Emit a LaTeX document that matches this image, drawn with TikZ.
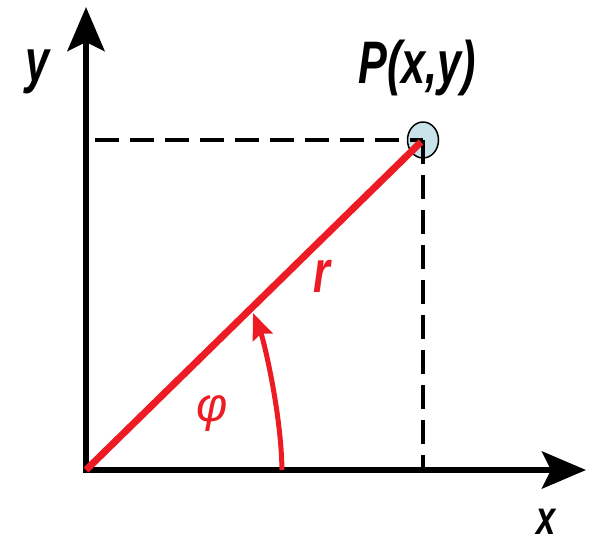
\documentclass[tikz,border=0pt]{standalone}
\usepackage{fontspec}
\usetikzlibrary{arrows.meta,shapes.geometric}
\newfontfamily\labfont[FakeStretch=0.72]{Liberation Sans}
\newfontfamily\phifont{Liberation Sans}
\definecolor{myred}{RGB}{237,28,36}
\definecolor{pfill}{RGB}{200,228,234}
\tikzset{
  axis/.style={line width=6pt, -{Stealth[length=44pt,width=37pt,inset=9pt]}},
  dashline/.style={line width=4pt, dash pattern=on 24pt off 11pt},
  redline/.style={line width=7pt, myred},
  arcarrow/.style={line width=5pt, myred, -{Stealth[length=26pt,width=21pt,inset=4pt]}},
  lab/.style={inner sep=0pt, font=\labfont\bfseries\itshape\fontsize{60}{60}\selectfont},
}
\begin{document}
\begin{tikzpicture}[x=1pt,y=-1pt]
\useasboundingbox (0,0) rectangle (599,547);
\coordinate (O) at (86,470);
\coordinate (P) at (423,140);
\coordinate (Yt) at (86,7);
\coordinate (Xt) at (586,470);
\coordinate (Px) at (423,470);
\coordinate (Py) at (95,140);
\coordinate (A0) at (282,470);
\coordinate (A1) at (253,313);
% circle at P
\node[draw=black, line width=1.5pt, fill=pfill, ellipse, minimum width=31pt, minimum height=36pt, inner sep=0pt] (Pc) at (P) {};
% dashed projections
\draw[dashline] (Py) -- (P);
\draw[dashline] (P) -- (Px);
% axes
\draw[axis] (86,473) -- (Yt);
\draw[axis] (83,470) -- (Xt);
% radius
\draw[redline] (O) -- (421,142);
% angle arc
\draw[arcarrow] (A0) .. controls (281,410) and (263,338) .. (A1);
% labels
\node[lab] (ylab) at (38,72) {y};
\node[lab, font=\labfont\bfseries\itshape\fontsize{48}{48}\selectfont] (xlab) at (546,522) {x};
\node[lab] (plab) at (417,68) {P(x,y)};
\node[lab, text=myred] (rlab) at (322,276) {r};
\node[inner sep=0pt, text=myred, font=\phifont\itshape\fontsize{48}{48}\selectfont] (philab) at (212,414) {φ};
\end{tikzpicture}
\end{document}
